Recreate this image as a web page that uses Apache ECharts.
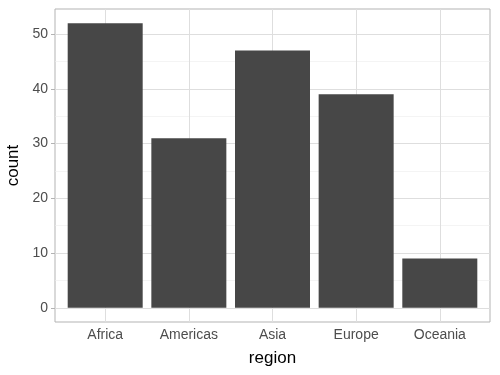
<!DOCTYPE html>
<html><head><meta charset="utf-8">
<script src="https://cdn.jsdelivr.net/npm/echarts@6/dist/echarts.min.js"></script>
<style>html,body{margin:0;padding:0;background:#fff}#c{width:500px;height:375px}</style>
</head><body><div id="c"></div>
<script>
const categories = ['Africa', 'Americas', 'Asia', 'Europe', 'Oceania'];
const counts = [52, 31, 47, 39, 9];
const yMajor = [0, 10, 20, 30, 40, 50];
const yMinor = [5, 15, 25, 35, 45];
const xPos = [1, 2, 3, 4, 5];

const chart = echarts.init(document.getElementById('c'), null, {renderer: 'canvas'});
const font = '"Liberation Sans", Arial, Helvetica, sans-serif';
const gridColor = '#dedede';
const lineLbl = {show: false};
const mk = (arr, key, w, c) => arr.map(v => ({[key]: v, lineStyle: {color: c, width: w, type: 'solid'}, label: lineLbl}));

chart.setOption({
  animation: false,
  backgroundColor: '#fff',
  grid: {left: 55, right: 10, top: 9, bottom: 53, containLabel: false, outerBoundsMode: 'none',
         show: true, borderColor: '#b3b3b3', borderWidth: 1, backgroundColor: 'transparent'},
  xAxis: {
    type: 'value', min: 0.4, max: 5.6,
    name: 'region', nameLocation: 'middle', nameGap: 28,
    nameTextStyle: {fontFamily: font, fontSize: 17, color: '#000'},
    axisLine: {show: false},
    axisTick: {show: true, length: 4, customValues: xPos, lineStyle: {color: '#b3b3b3'}},
    axisLabel: {customValues: xPos, formatter: v => categories[Math.round(v) - 1] || '', fontFamily: font, fontSize: 14, color: '#4d4d4d', margin: 6},
    splitLine: {show: false}
  },
  yAxis: {
    type: 'value', min: -2.6, max: 54.6,
    name: 'count', nameLocation: 'middle', nameGap: 29,
    nameTextStyle: {fontFamily: font, fontSize: 17, color: '#000'},
    axisLine: {show: false},
    axisTick: {show: true, length: 4, customValues: yMajor, lineStyle: {color: '#b3b3b3'}},
    axisLabel: {customValues: yMajor, fontFamily: font, fontSize: 14, color: '#4d4d4d', margin: 7},
    splitLine: {show: false}
  },
  series: [
    {
      type: 'scatter', data: [], zlevel: 0, z: 1, silent: true,
      markLine: {
        silent: true, symbol: 'none', animation: false,
        data: [].concat(
          mk(yMinor, 'yAxis', 0.6, '#ececec'),
          mk(yMajor, 'yAxis', 1, gridColor),
          mk(xPos, 'xAxis', 1, gridColor)
        )
      }
    },
    {
      type: 'bar', zlevel: 1, z: 2,
      data: counts.map((v, i) => [xPos[i], v]),
      barWidth: 75,
      itemStyle: {color: '#474747'}
    }
  ]
});
</script></body></html>
